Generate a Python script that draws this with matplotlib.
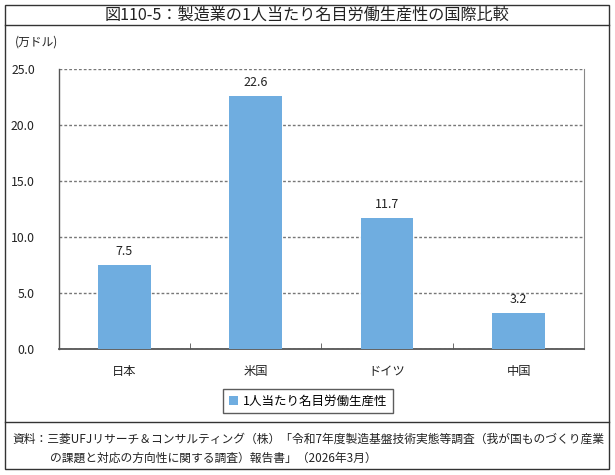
import matplotlib
matplotlib.use('Agg')
import matplotlib.pyplot as plt
from matplotlib.patches import Rectangle
from matplotlib.lines import Line2D

plt.rcParams['font.family'] = ['Noto Sans CJK JP', 'DejaVu Sans']

countries = ['日本', '米国', 'ドイツ', '中国']
values = [7.5, 22.6, 11.7, 3.2]
yticks = [0.0, 5.0, 10.0, 15.0, 20.0, 25.0]
series_name = '1人当たり名目労働生産性'
title = '図110-5：製造業の1人当たり名目労働生産性の国際比較'
unit = '(万ドル)'
source1 = '資料：三菱UFJリサーチ＆コンサルティング（株）「令和7年度製造基盤技術実態等調査（我が国ものづくり産業'
source2 = 'の課題と対応の方向性に関する調査）報告書」（2026年3月）'

W, H = 615, 475
fig = plt.figure(figsize=(W/100, H/100), dpi=100)

def fx(px):
	return px / W

def fy(py):
	return 1 - py / H

# frame around the whole figure
fig.patches.append(Rectangle((fx(5), fy(469)), fx(609)-fx(5), fy(5)-fy(469), transform=fig.transFigure,
	fill=False, edgecolor='#333333', linewidth=1.0))
fig.lines.append(Line2D([fx(5), fx(609)], [fy(25), fy(25)], transform=fig.transFigure, color='#333333', linewidth=1.0))
fig.lines.append(Line2D([fx(5), fx(609)], [fy(422), fy(422)], transform=fig.transFigure, color='#333333', linewidth=1.0))

fig.text(fx(307), fy(15), title, ha='center', va='center', fontsize=11.6, color='#222222')
fig.text(fx(15), fy(42), unit, ha='left', va='center', fontsize=8.5, color='#222222')
fig.text(fx(12), fy(439), source1, ha='left', va='center', fontsize=8.5, color='#222222')
fig.text(fx(50), fy(458), source2, ha='left', va='center', fontsize=8.5, color='#222222')

ax = fig.add_axes([fx(58.5), fy(348.7), fx(584.3)-fx(58.5), fy(69)-fy(348.7)])
x = list(range(len(countries)))
bars = ax.bar(x, values, width=0.4, color='#6FADE0', label=series_name, zorder=3)
for xi, v in zip(x, values):
	ax.text(xi, v + 0.6, f'{v:.1f}', ha='center', va='bottom', fontsize=9, color='#222222')

ax.set_xlim(-0.5, len(countries) - 0.5)
ax.set_ylim(0, 25)
ax.set_yticks(yticks)
ax.set_yticklabels([f'{t:.1f}' for t in yticks], fontsize=8.8, color='#222222')
ax.yaxis.grid(True, linestyle=(0, (2, 1.5)), color='#777777', linewidth=1.0, zorder=0)
ax.tick_params(axis='y', length=0, pad=17)

ax.set_xticks(x)
ax.set_xticklabels(countries, fontsize=8.8, color='#222222')
ax.tick_params(axis='x', length=0, pad=12)
# category boundary ticks pointing up
ax.set_xticks([0.5, 1.5, 2.5], minor=True)
ax.tick_params(axis='x', which='minor', direction='in', length=4, color='#555555')

ax.spines['top'].set_visible(False)
ax.spines['left'].set_color('#555555')
ax.spines['bottom'].set_color('#555555')
ax.spines['right'].set_color('#888888')
ax.spines['bottom'].set_linewidth(1.3)
ax.spines['left'].set_linewidth(1.0)

leg = fig.legend(handles=[bars], labels=[series_name], loc='center', bbox_to_anchor=(fx(308), fy(401)),
	fontsize=9, frameon=True, fancybox=False, edgecolor='#333333', handlelength=0.7, handleheight=0.7,
	handletextpad=0.4, borderpad=0.45, borderaxespad=0)
leg.get_frame().set_linewidth(1.0)

fig.savefig('out.png', dpi=100)
